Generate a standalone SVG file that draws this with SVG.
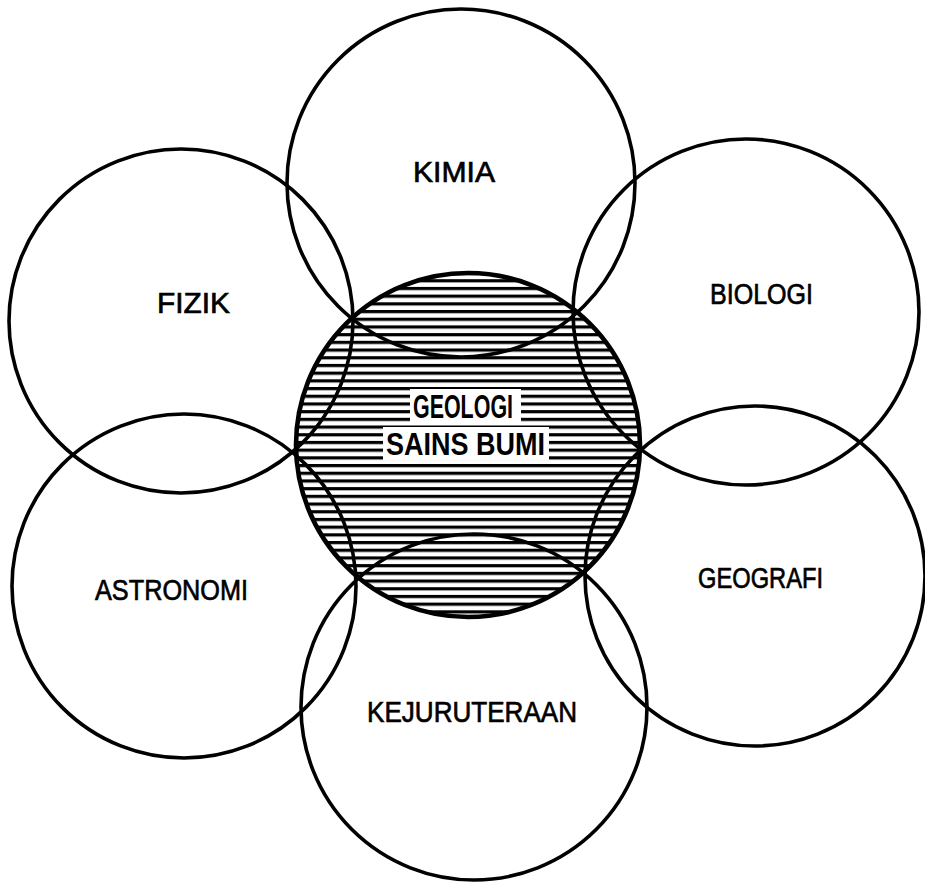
<svg xmlns="http://www.w3.org/2000/svg" width="925" height="884" viewBox="0 0 925 884">
  <defs>
    <pattern id="hatch" patternUnits="userSpaceOnUse" x="0" y="2" width="20" height="7.7">
      <rect x="0" y="0" width="20" height="3.2" fill="#000"/>
    </pattern>
  </defs>
  <style>
    .outer { fill: none; stroke: #000; stroke-width: 3.6; }
    .core { stroke: #000; stroke-width: 4.6; }
    .lbl { font-family: "Liberation Sans", Arial, sans-serif; font-size: 30px; fill: #000; stroke: #000; stroke-width: 0.7; }
    .core-lbl { font-family: "Liberation Sans", Arial, sans-serif; font-weight: bold; fill: #000; }
  </style>
  <rect x="0" y="0" width="925" height="884" fill="#fff"/>

  <g id="geologi">
    <circle cx="468" cy="445" r="172" fill="url(#hatch)" class="core"/>
    <rect x="410" y="389" width="111" height="33" fill="#fff"/>
    <rect x="383" y="427" width="166" height="33" fill="#fff"/>
    <text class="core-lbl" x="413" y="418" font-size="34" textLength="100" lengthAdjust="spacingAndGlyphs">GEOLOGI</text>
    <text class="core-lbl" x="386" y="455" font-size="32" textLength="159" lengthAdjust="spacingAndGlyphs">SAINS BUMI</text>
  </g>

  <g id="connectors"/>

  <g id="kimia">
    <circle class="outer" cx="461" cy="183" r="174"/>
    <text class="lbl" x="413" y="182" textLength="82" lengthAdjust="spacingAndGlyphs">KIMIA</text>
  </g>
  <g id="fizik">
    <circle class="outer" cx="181" cy="321" r="172"/>
    <text class="lbl" x="157" y="313" font-size="29" textLength="73" lengthAdjust="spacingAndGlyphs">FIZIK</text>
  </g>
  <g id="biologi">
    <circle class="outer" cx="746" cy="312" r="173"/>
    <text class="lbl" x="710" y="304" textLength="103" lengthAdjust="spacingAndGlyphs">BIOLOGI</text>
  </g>
  <g id="astronomi">
    <circle class="outer" cx="184" cy="586" r="172"/>
    <text class="lbl" x="95" y="600" textLength="153" lengthAdjust="spacingAndGlyphs">ASTRONOMI</text>
  </g>
  <g id="geografi">
    <circle class="outer" cx="755" cy="576" r="170"/>
    <text class="lbl" x="698" y="588" font-size="33" textLength="125" lengthAdjust="spacingAndGlyphs">GEOGRAFI</text>
  </g>
  <g id="kejuruteraan">
    <circle class="outer" cx="474" cy="707" r="173"/>
    <text class="lbl" x="367" y="722" font-size="33" textLength="210" lengthAdjust="spacingAndGlyphs" stroke-width="1">KEJURUTERAAN</text>
  </g>
</svg>
